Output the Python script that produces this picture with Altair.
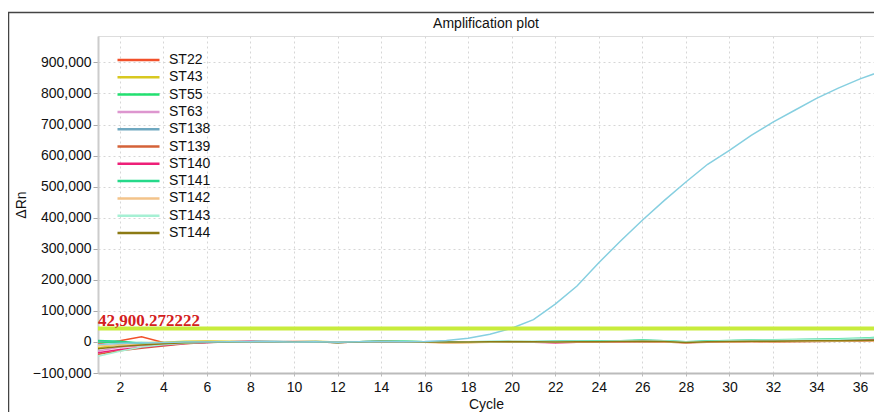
import altair as alt
import pandas as pd

cycles = list(range(1, 38))

names = ["ST22", "ST43", "ST55", "ST63", "ST138", "ST139", "ST140", "ST141", "ST142", "ST143", "ST144"]
colors = ["#f2502a", "#d8c820", "#22e070", "#dd96cf", "#6fa8c0", "#d46238", "#ee1f78",
          "#25d98a", "#f3c38a", "#a6f0d4", "#8c7a14"]

ST22 = [-6000, 4000, 17000, -2000, -3000, -1000, 1000, 500, 0, 1500, 1000, -1500, 0, 1500, 1000, 0, -1000, -500, 0, 1000, 500, -1000, 0, 1000, 1500, 2000, 1000, -2000, 500, 1000, 2000, 1500, 2500, 3000, 3500, 4000, 5000]
ST43 = [-19000, -8000, -3000, -1000, 2000, 3000, 2000, 1000, 500, 1000, 2000, 0, 1000, 2000, 1500, 500, -3000, -2000, 0, 1500, 1000, 500, 1000, 1500, 2000, 3000, 2000, -1000, 1000, 2000, 3000, 2500, 3000, 4000, 4500, 5000, 6000]
ST55 = [0, -3000, -2000, -4000, -1000, 0, 1000, 1500, 500, 0, 1000, -2000, 500, 2000, 1500, 500, 0, 500, 1000, 500, 0, 1000, 1500, 2000, 3000, 5000, 3000, -1000, 2000, 3000, 4000, 5000, 6000, 7000, 8000, 10000, 13000]
ST63 = [-29000, -17000, -12000, -8000, -3000, -1000, 0, 500, 1000, 500, 0, -1500, 0, 1000, 500, 0, -500, 0, 500, 0, -500, 0, 500, 1000, 500, 1500, 1000, -1500, 0, 1000, 1500, 2000, 3000, 2500, 3000, 4000, 4500]
ST138 = [3000, 1000, -5000, -8000, -4000, -2000, 0, 1000, 500, 1000, 1500, -1000, 1000, 2000, 1500, 500, 0, 500, 1000, 1500, 1000, 1500, 2000, 2500, 3000, 4500, 3500, 0, 2500, 4000, 5000, 6000, 7000, 7500, 8000, 9000, 11000]
ST139 = [-40000, -28000, -20000, -13000, -6000, -2000, -500, 500, 1000, 500, 0, -2000, -500, 500, 0, -500, -1500, -1000, -500, 0, -500, -1500, -1000, 0, 500, 1000, 0, -3000, -1000, -500, 500, 0, 1000, 1500, 2000, 2500, 3000]
ST140 = [-35000, -24000, -18000, -11000, -5000, -1500, 1000, 2000, 1500, 1000, 500, -1000, 500, 1500, 1000, 0, -500, 0, 500, 500, -1000, -3000, -1000, 500, 1000, 2000, 1000, -2000, 0, 1500, 2500, 2000, 3000, 3500, 4000, 5000, 6000]
ST141 = [5000, 2000, -4000, -6000, -2000, 0, 500, 1000, 1500, 1000, 500, -1500, 1000, 2500, 2000, 1000, 500, 1000, 1500, 1000, 1500, 2000, 2500, 3000, 4000, 6000, 4000, 1000, 3000, 4500, 6000, 7000, 8000, 9000, 10000, 12000, 15000]
ST142 = [-12000, -10000, -8000, -5000, -2000, 0, 500, 1000, 500, 0, 500, -500, 500, 1000, 500, -1000, -4000, -3000, -1000, 0, 500, 0, -500, 0, 500, 1000, 0, -2500, -500, 0, 1000, 500, 1500, 2000, 2500, 3000, 3500]
ST143 = [-46000, -30000, -16000, -9000, -4000, -1000, 0, 1000, 1500, 1000, 500, -1000, 1000, 2000, 1500, 500, 0, 500, 1000, 1500, 1000, 1000, 2000, 2500, 3500, 5000, 3500, 500, 2500, 4000, 5500, 6500, 7000, 8000, 9000, 11000, 14000]
ST144 = [-22000, -15000, -10000, -6000, -3000, -1000, 0, 500, 1000, 500, 0, -2000, 0, 1500, 1000, 0, -500, 0, 500, 1000, 500, 0, 500, 1000, 1500, 2500, 1500, -1500, 500, 1500, 2500, 2000, 3000, 3500, 4000, 4500, 5500]

# amplified positive sample (drawn without legend entry)
PC_NAME = "PC"
PC_COLOR = "#86cfe0"
PC = [-8000, -5000, -3000, -1500, -500, 0, 500, 1000, 500, 0, 500, -1000, 500, 1000, 1000, 1500, 5000, 12000, 25000, 44000, 72000, 122000, 180000, 255000, 325000, 392000, 455000, 515000, 572000, 617000, 665000, 708000, 746000, 784000, 817000, 847000, 872000]

threshold = 42900.272222
y_ticks = list(range(-100000, 1000000, 100000))
x_ticks = list(range(2, 37, 2))

series = [ST22, ST43, ST55, ST63, ST138, ST139, ST140, ST141, ST142, ST143, ST144]
rows = []
for n, vals in zip(names, series):
    assert len(vals) == len(cycles)
    for c, v in zip(cycles, vals):
        rows.append({"Cycle": c, "dRn": v, "Sample": n, "order": 0})
assert len(PC) == len(cycles)
for c, v in zip(cycles, PC):
    rows.append({"Cycle": c, "dRn": v, "Sample": PC_NAME, "order": 1})
df = pd.DataFrame(rows)

FONT = "Liberation Sans"
FS = 14

xscale = alt.Scale(domain=[1, 36.64], nice=False, zero=False)
yscale = alt.Scale(domain=[-100000, 985000], nice=False, zero=False)

x_axis = alt.Axis(values=x_ticks, title="Cycle", grid=True, gridDash=[2, 3],
                  gridColor="#d6d6d6", domainColor="#bbbbbb", domainWidth=2,
                  tickColor="#bbbbbb", tickSize=3, labelPadding=4,
                  labelOverlap=False,
                  labelFont=FONT, labelFontSize=FS, labelColor="#111",
                  titleFont=FONT, titleFontSize=FS, titleFontWeight="normal",
                  titleColor="#111", titlePadding=3)
y_axis = alt.Axis(values=y_ticks, format=",d", title="ΔRn", grid=True,
                  gridDash=[2, 3], gridColor="#d6d6d6", domainColor="#cccccc",
                  domainWidth=2, tickColor="#aaaaaa", tickSize=5, labelPadding=2,
                  labelOverlap=False,
                  labelFont=FONT, labelFontSize=FS, labelColor="#111",
                  titleFont=FONT, titleFontSize=FS, titleFontWeight="normal",
                  titleColor="#111", titlePadding=4)

color = alt.Color(
    "Sample:N",
    scale=alt.Scale(domain=names + [PC_NAME], range=colors + [PC_COLOR]),
    legend=alt.Legend(
        orient="none", legendX=31.5, legendY=15, title=None, values=names,
        symbolType="M-2.8,0H2.8", symbolSize=225, symbolStrokeWidth=2.5,
        labelFont=FONT, labelFontSize=FS, labelColor="#111", labelOffset=21.5,
        rowPadding=1.3, padding=0, symbolOpacity=1,
    ),
)

lines = alt.Chart(df).mark_line(strokeWidth=1.5, clip=True).encode(
    x=alt.X("Cycle:Q", scale=xscale, axis=x_axis),
    y=alt.Y("dRn:Q", scale=yscale, axis=y_axis),
    color=color,
    detail="Sample:N",
    order=alt.Order("order:Q"),
)

thr_df = pd.DataFrame({"v": [threshold], "x": [cycles[0]],
                       "label": [f"{threshold:,.6f}"]})
thr_rule = alt.Chart(thr_df).mark_rule(color="#c8ec3c", strokeWidth=4).encode(
    y=alt.Y("v:Q", scale=yscale, axis=y_axis)
)
thr_text = alt.Chart(thr_df).mark_text(
    align="left", baseline="alphabetic", dy=-3, dx=0, color="#d42020",
    font="Liberation Serif", fontSize=17, fontWeight="bold"
).encode(
    x=alt.X("x:Q", scale=xscale, axis=x_axis),
    y=alt.Y("v:Q", scale=yscale, axis=y_axis),
    text="label:N",
)

frame = alt.Chart(pd.DataFrame({"a": [0]})).mark_rect(
    filled=False, stroke="#444444", strokeWidth=1.5, fill=None
).encode(x=alt.value(-89.5), y=alt.value(-23.5), x2=alt.value(1000), y2=alt.value(600))

chart = alt.layer(frame, lines, thr_rule, thr_text).properties(
    width=776, height=337,
    title=alt.TitleParams("Amplification plot", font=FONT, fontSize=FS,
                          fontWeight="normal", color="#111", anchor="middle",
                          offset=7, dy=26),
    autosize=alt.AutoSizeParams(type="none"),
    padding={"left": 90, "top": 28, "right": 0, "bottom": 39},
).configure_view(stroke="#dddddd", strokeWidth=2).configure_axis(
    labelOverlap=False
).configure(background="white")

chart.save("out.html", embed_options={"renderer": "svg", "actions": False})
